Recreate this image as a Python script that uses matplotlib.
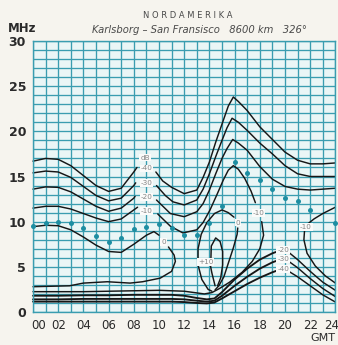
import matplotlib
matplotlib.use("Agg")
import matplotlib.pyplot as plt
import matplotlib.transforms as mtransforms

# ---- data: hours (GMT) and frequency (MHz) ----
hour_ticks = list(range(0, 25, 2))
hour_labels = ["%02d" % h for h in hour_ticks]
mhz_ticks = [0, 5, 10, 15, 20, 25, 30]

# maximum usable frequency (dotted)
muf_h = [0, 1, 2, 3, 4, 5, 6, 7, 8, 9, 10, 11, 12, 13, 14, 15, 16, 17, 18, 19, 20, 21, 22, 24]
muf_f = [9.5, 9.9, 10.0, 9.8, 9.3, 8.4, 7.8, 8.2, 9.2, 9.4, 9.7, 9.3, 8.5, 8.5, 9.8, 11.7,
         16.6, 15.4, 14.6, 13.6, 12.6, 12.3, 11.3, 9.8]

# field-strength contours (dB), upper branches, left of the label column
m40_left_h = [0, 1, 2, 3, 4, 5, 6, 7, 8, 8.25]
m40_left_f = [16.7, 17.0, 16.9, 16.2, 15.1, 14.0, 13.35, 13.7, 15.5, 16.0]
m30_left_h = [0, 1, 2, 3, 4, 5, 6, 7, 8, 8.15]
m30_left_f = [15.4, 15.6, 15.5, 14.9, 13.9, 12.9, 12.3, 12.6, 14.0, 14.3]
m20_left_h = [0, 1, 2, 3, 4, 5, 6, 7, 8, 8.1]
m20_left_f = [13.6, 13.85, 13.8, 13.3, 12.5, 11.7, 11.15, 11.5, 12.6, 12.8]
m10_left_h = [0, 1, 2, 3, 4, 5, 6, 7, 8, 8.3]
m10_left_f = [11.5, 11.7, 11.7, 11.4, 10.9, 10.4, 10.0, 10.3, 11.3, 11.6]

# upper branches, right of the label column
m40_right_h = [9.75, 10.3, 11, 12, 13, 13.5, 14, 14.5, 15, 15.5, 15.9, 16.3, 17, 18, 19, 20, 21, 22, 23, 24]
m40_right_f = [15.5, 14.5, 13.8, 13.1, 13.5, 14.9, 16.6, 18.8, 20.8, 22.8, 23.8, 23.3, 22.3, 20.5,
               19.1, 17.7, 16.8, 16.4, 16.4, 16.5]
m30_right_h = [9.8, 10.5, 11.1, 12, 13, 13.5, 14, 14.5, 15, 15.4, 15.8, 16.3, 17, 18, 19, 20, 21, 22, 23, 24]
m30_right_f = [14.0, 12.9, 12.2, 11.85, 12.4, 13.6, 15.3, 17.2, 19.0, 20.4, 21.45, 21.0, 20.1, 18.7,
               17.5, 16.2, 15.3, 15.0, 15.0, 15.0]
m20_right_h = [9.8, 10.9, 12, 13, 13.5, 14, 14.5, 15, 15.4, 15.85, 16.3, 17, 18, 19, 20, 21, 22, 23, 24]
m20_right_f = [12.4, 10.9, 10.55, 11.1, 12.0, 13.5, 15.3, 17.0, 18.1, 19.1, 18.7, 17.9, 16.1, 14.7,
               13.9, 13.6, 13.5, 13.6, 13.7]

# -10 dB: right part over the afternoon peak, down to its label
m10_peak_h = [9.9, 10.9, 11.9, 13.0, 13.5, 14.05, 14.6, 15.1, 15.5, 15.9, 16.3, 16.8, 17.3, 17.65]
m10_peak_f = [10.85, 9.5, 8.75, 9.1, 9.9, 11.3, 13.0, 14.6, 15.7, 16.2, 15.8, 14.8, 13.4, 12.1]
# -10 dB: from its label back down and along the lower edge
m10_low_h = [18.15, 18.3, 18.0, 17.4, 16.6, 15.6, 14.8, 14.2, 13.6, 12, 10, 8, 6, 4, 2, 0]
m10_low_f = [10.0, 8.5, 7.0, 5.6, 4.4, 3.3, 2.6, 2.15, 2.0, 2.3, 2.4, 2.35, 2.3, 2.25, 2.25, 2.25]

# 0 dB: morning loop
zero_up_h = [0, 1, 2, 3, 4, 5, 6, 7, 8, 9, 9.6, 10.0]
zero_up_f = [9.45, 9.6, 9.55, 9.1, 8.3, 7.4, 6.7, 6.6, 7.5, 8.5, 8.9, 8.5]
zero_low_h = [10.75, 11.2, 11.3, 11.0, 10.1, 8.7, 7.7, 5.9, 4, 2.9, 0]
zero_low_f = [7.2, 6.3, 5.6, 4.5, 3.75, 3.35, 3.2, 3.35, 3.2, 2.9, 2.8]

# 0 dB: afternoon loop (left side up to its label, then down the right side)
zero_pm_h = [14.2, 13.9, 13.4, 13.1, 13.1, 13.35, 13.8, 14.4, 15.0, 15.5, 15.95]
zero_pm_f = [2.3, 2.5, 3.6, 5.2, 7.0, 8.6, 9.9, 10.9, 11.3, 11.0, 10.5]
zero_pm2_h = [16.25, 16.2, 15.9, 15.5, 15.15, 14.75, 14.45]
zero_pm2_f = [9.3, 8.6, 7.1, 5.4, 3.9, 2.9, 2.45]

# +10 dB island
p10_h = [14.45, 14.2, 14.1, 14.15, 14.5, 14.85, 15.05, 15.05, 14.9, 14.65]
p10_f = [2.9, 4.3, 5.0, 7.3, 8.2, 7.8, 6.7, 5.2, 3.8, 2.9]

# lower branches (-20, -30, -40) rising towards the evening labels
low_h = [0, 2, 4, 6, 8, 10, 11, 12, 13, 13.8, 14.4, 15, 16, 17, 18, 19, 19.4]
m20_low_f = [1.8, 1.8, 1.85, 1.85, 1.9, 1.9, 1.9, 1.8, 1.55, 1.4, 1.5, 2.2, 3.6, 4.8, 5.8, 6.5, 6.7]
m30_low_f = [1.4, 1.4, 1.45, 1.45, 1.45, 1.45, 1.45, 1.4, 1.25, 1.15, 1.25, 1.8, 2.9, 3.9, 4.8, 5.5, 5.7]
m40_low_f = [1.15, 1.15, 1.15, 1.15, 1.15, 1.15, 1.15, 1.1, 1.0, 0.95, 1.05, 1.5, 2.3, 3.1, 3.8, 4.4, 4.6]
eve_h = [20.3, 21, 22, 23, 24]
m20_eve_f = [6.6, 5.8, 4.5, 3.3, 2.4]
m30_eve_f = [5.6, 4.9, 3.7, 2.6, 1.7]
m40_eve_f = [4.5, 3.9, 2.9, 1.9, 1.1]

# -10 dB late-evening contour
m10_late_up_h = [21.85, 22.3, 23, 24]
m10_late_up_f = [9.8, 10.3, 10.9, 11.6]
m10_late_low_h = [21.55, 21.5, 21.75, 22.4, 23.2, 24]
m10_late_low_f = [9.0, 8.0, 6.5, 5.1, 4.0, 3.2]

# contour labels: (hour, MHz, text)
contour_labels = [
    (8.9, 17.1, "dB"), (9.0, 15.9, "-40"), (9.0, 14.3, "-30"), (9.0, 12.7, "-20"),
    (9.0, 11.2, "-10"), (10.35, 7.75, "0"), (13.7, 5.5, "+10"), (16.25, 9.9, "0"),
    (17.9, 11.0, "-10"), (21.65, 9.4, "-10"), (19.85, 6.9, "-20"), (19.85, 5.85, "-30"),
    (19.85, 4.8, "-40"),
]

# ---- figure ----
W, H = 338, 345
fig = plt.figure(figsize=(W / 100, H / 100), dpi=100)
fig.patch.set_facecolor("#f6f4ee")
ax = fig.add_axes([33 / W, 1 - 312 / H, 302.4 / W, 271 / H])
ax.set_xlim(0, 24)
ax.set_ylim(0, 30)
ax.set_facecolor("#eaf6f6")

grid_col = "#3a9db0"
ax.set_xticks(hour_ticks)
ax.set_xticklabels(hour_labels)
ax.set_xticks(range(25), minor=True)
ax.set_yticks(mhz_ticks)
ax.set_yticks(range(31), minor=True)
ax.grid(True, which="both", color=grid_col, lw=0.95)
ax.set_axisbelow(True)
ax.tick_params(which="both", length=0)
ax.tick_params(axis="x", pad=5, labelsize=8.5, labelcolor="#2a2a2a")
ax.tick_params(axis="y", pad=5, labelsize=9, labelcolor="#2a2a2a")
for lbl in ax.get_yticklabels():
    lbl.set_fontweight("bold")
for s in ax.spines.values():
    s.set_color(grid_col)
    s.set_linewidth(1.0)
# nudge the first and last hour labels inwards
xlabels = ax.get_xticklabels()
xlabels[0].set_transform(xlabels[0].get_transform() +
                         mtransforms.ScaledTranslation(6 / 100, 0, fig.dpi_scale_trans))
xlabels[-1].set_transform(xlabels[-1].get_transform() +
                          mtransforms.ScaledTranslation(-4 / 100, 0, fig.dpi_scale_trans))

line_kw = dict(color="#161616", lw=1.05, solid_capstyle="round", solid_joinstyle="round")
curves = [
    (m40_left_h, m40_left_f), (m30_left_h, m30_left_f), (m20_left_h, m20_left_f), (m10_left_h, m10_left_f),
    (m40_right_h, m40_right_f), (m30_right_h, m30_right_f), (m20_right_h, m20_right_f),
    (m10_peak_h, m10_peak_f), (m10_low_h, m10_low_f),
    (zero_up_h, zero_up_f), (zero_low_h, zero_low_f),
    (zero_pm_h, zero_pm_f), (zero_pm2_h, zero_pm2_f), (p10_h, p10_f),
    (eve_h, m20_eve_f), (eve_h, m30_eve_f), (eve_h, m40_eve_f),
    (m10_late_up_h, m10_late_up_f), (m10_late_low_h, m10_late_low_f),
]
for h, f in curves:
    ax.plot(h, f, clip_on=False, **line_kw)
# the tightly packed lower branches print heavier
for f in (m20_low_f, m30_low_f, m40_low_f):
    ax.plot(low_h, f, clip_on=False, **dict(line_kw, lw=1.35))

ax.plot(muf_h, muf_f, ls="none", marker="o", ms=3.6, color="#1d8ea2", mec="none", clip_on=False, zorder=4)

for h, f, s in contour_labels:
    ax.text(h, f, s, fontsize=5.2, color="#858585", ha="center", va="center", zorder=5,
            bbox=dict(boxstyle="square,pad=0.12", fc="#fbfbfa", ec="none"))

# titles and axis captions
fig.text(188 / W, 1 - 16 / H, "N O R D A M E R I K A", fontsize=6.0, color="#4a4a4a", ha="center", va="center")
fig.text(199 / W, 1 - 30 / H, "Karlsborg – San Fransisco   8600 km   326°", fontsize=7.2,
         color="#4a4a4a", ha="center", va="center", style="italic")
fig.text(8 / W, 1 - 28 / H, "MHz", fontsize=8.5, color="#2a2a2a", ha="left", va="center", fontweight="bold")
fig.text(323 / W, 1 - 338 / H, "GMT", fontsize=8, color="#2a2a2a", ha="center", va="center")

fig.savefig("out.png", dpi=100, facecolor=fig.get_facecolor())
